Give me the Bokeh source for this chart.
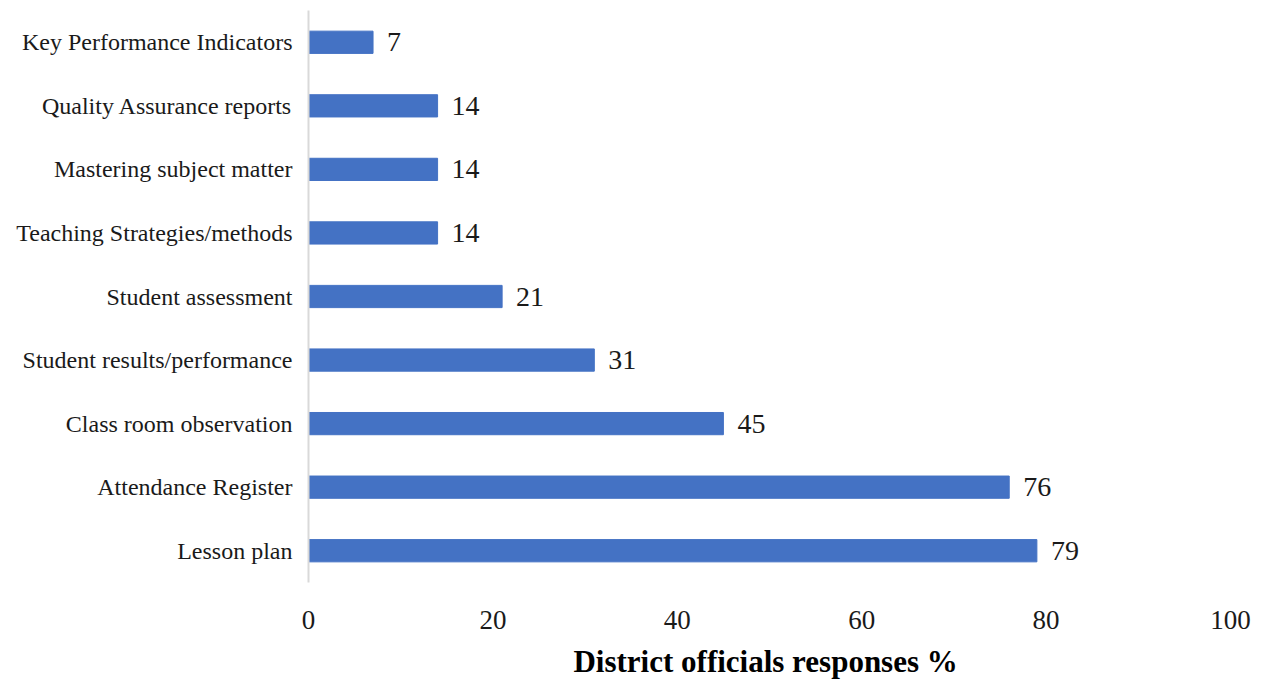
from bokeh.plotting import figure
from bokeh.models import ColumnDataSource, FixedTicker, FactorRange
from bokeh.core.properties import value
from bokeh.embed import file_html
from bokeh.resources import INLINE

categories = [
    "Key Performance Indicators",
    "Quality Assurance reports",
    "Mastering subject matter",
    "Teaching Strategies/methods",
    "Student assessment",
    "Student results/performance",
    "Class room observation",
    "Attendance Register",
    "Lesson plan",
]
values = [7, 14, 14, 14, 21, 31, 45, 76, 79]
x_ticks = [0, 20, 40, 60, 80, 100]

FONT = "Liberation Serif"

src = ColumnDataSource(dict(cat=categories, val=values, lab=[str(v) for v in values]))

p = figure(
    width=1263, height=682,
    y_range=FactorRange(factors=categories[::-1]),
    x_range=(0, 100),
    output_backend="svg", toolbar_location=None,
    min_border_left=308, min_border_right=33,
    min_border_top=10, min_border_bottom=100,
)
p.outline_line_color = None
p.xgrid.grid_line_color = None
p.ygrid.grid_line_color = None
p.background_fill_color = "white"
p.border_fill_color = "white"

p.hbar(y="cat", right="val", left=0, height=0.35, source=src,
       fill_color="#4472C4", line_color="#4472C4")

p.text(x="val", y="cat", text="lab", source=src, x_offset=14,
       text_baseline="middle", text_align="left",
       text_font=value(FONT), text_font_size="28px", text_color="#1a1a1a")

p.xaxis.ticker = FixedTicker(ticks=x_ticks)
p.xaxis.axis_line_color = None
p.xaxis.major_tick_line_color = None
p.xaxis.minor_tick_line_color = None
p.xaxis.major_label_text_font = FONT
p.xaxis.major_label_text_font_size = "27px"
p.xaxis.major_label_text_color = "#1a1a1a"
p.xaxis.major_label_standoff = 22
p.xaxis.axis_label = "District  officials responses %"
p.xaxis.axis_label_text_font = FONT
p.xaxis.axis_label_text_font_style = "bold"
p.xaxis.axis_label_text_font_size = "31px"
p.xaxis.axis_label_text_color = "#000000"
p.xaxis.axis_label_standoff = 12

p.yaxis.axis_line_color = "#d9d9d9"
p.yaxis.axis_line_width = 2
p.yaxis.major_tick_line_color = None
p.yaxis.minor_tick_line_color = None
p.yaxis.major_label_text_font = FONT
p.yaxis.major_label_text_font_size = "24px"
p.yaxis.major_label_text_color = "#1a1a1a"
p.yaxis.major_label_standoff = 10

open("out.html", "w").write(file_html(p, INLINE))
